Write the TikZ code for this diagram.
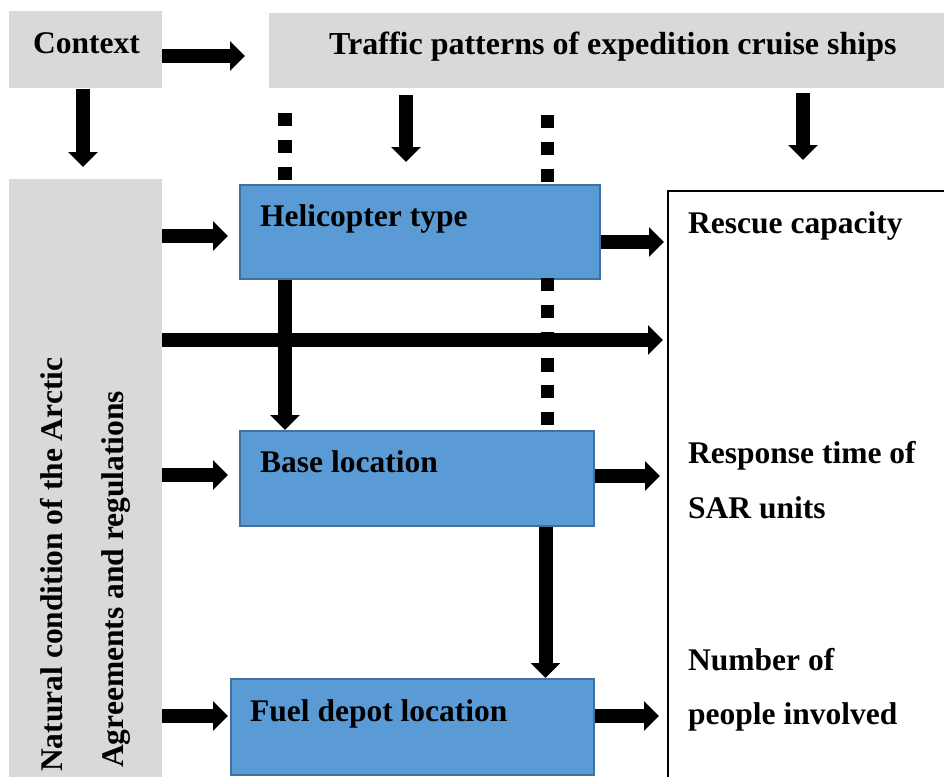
\documentclass[tikz,border=0pt]{standalone}
\usepackage{fontspec}
\setmainfont{Liberation Serif}
\usetikzlibrary{arrows.meta}
\definecolor{ctxgray}{HTML}{D9D9D9}
\definecolor{boxblue}{HTML}{5B9BD5}
\definecolor{boxedge}{HTML}{41719C}
\tikzset{
  graybox/.style={fill=ctxgray, draw=none, anchor=north west, inner sep=0pt},
  bluebox/.style={fill=boxblue, draw=boxedge, line width=2pt, anchor=north west, inner sep=0pt},
  outbox/.style={fill=white, draw=black, line width=2pt, anchor=north west, inner sep=0pt},
  lbl/.style={font=\fontsize{31.5}{36}\selectfont\bfseries, anchor=base west, inner sep=0pt},
  fat/.style={line width=14pt, -{Triangle[width=29pt,length=15pt]}},
  dots/.style={line width=13.5pt, dash pattern=on 13.2pt off 13.6pt}
}
\begin{document}
\begin{tikzpicture}[x=1pt, y=-1pt]
\clip (0,0) rectangle (944,776);
\fill[white] (0,0) rectangle (944,776);

% boxes
\node[graybox, minimum width=153pt, minimum height=77pt] (ctx) at (9,11) {};
\node[graybox, minimum width=700pt, minimum height=75pt] (traffic) at (269,13) {};
\node[graybox, minimum width=153pt, minimum height=620pt] (nat) at (9,179) {};
\node[bluebox, minimum width=360pt, minimum height=94pt] (heli) at (239,184) {};
\node[bluebox, minimum width=354pt, minimum height=95pt] (base) at (239,430) {};
\node[bluebox, minimum width=363pt, minimum height=96pt] (fuel) at (230,678) {};
\node[outbox, minimum width=320pt, minimum height=620pt] (out) at (667,190) {};

% labels
\node[lbl] (tctx) at (33,54) {Context};
\node[lbl, font=\fontsize{32}{36}\selectfont\bfseries] (ttraf) at (329,55) {Traffic patterns of expedition cruise ships};
\node[lbl, rotate=90] (tnat) at (62,772) {Natural condition of the Arctic};
\node[lbl, rotate=90] (tagr) at (123,768) {Agreements and regulations};
\node[lbl] (theli) at (260,226) {Helicopter type};
\node[lbl] (tbase) at (260,472) {Base location};
\node[lbl] (tfuel) at (250,721) {Fuel depot location};
\node[lbl] (tres) at (688,233) {Rescue capacity};
\node[lbl] (tresp1) at (688,463) {Response time of};
\node[lbl] (tresp2) at (688,518) {SAR units};
\node[lbl] (tnum1) at (688,670) {Number of};
\node[lbl] (tnum2) at (688,724) {people involved};

% free ends of the connectors
\coordinate (c1) at (245,56);
\coordinate (c2s) at (83,89);   \coordinate (c2) at (83,167);
\coordinate (t1s) at (406,95);  \coordinate (t1e) at (406,162);
\coordinate (t2s) at (803,93);  \coordinate (t2e) at (803,160);
\coordinate (n1) at (228,236);
\coordinate (n2) at (663,340);
\coordinate (n3) at (228,475);
\coordinate (n4) at (228,716);
\coordinate (h1) at (664,242);
\coordinate (b1) at (660,476);
\coordinate (f1) at (659,716);
\coordinate (hx) at (285,0);
\coordinate (bx) at (545.5,0);
\coordinate (d1s) at (285,113); \coordinate (d1e) at (285,184);
\coordinate (d2s) at (547.5,115); \coordinate (d2e) at (547.5,184);
\coordinate (d3s) at (547.5,278); \coordinate (d3e) at (547.5,426);

% dotted links
\draw[dots] (d1s) -- (d1e);
\draw[dots] (d2s) -- (d2e);
\draw[dots] (d3s) -- (d3e);

% block arrows
\draw[fat] (ctx.east |- c1) -- (c1);
\draw[fat] (c2s) -- (c2);
\draw[fat] (t1s) -- (t1e);
\draw[fat] (t2s) -- (t2e);
\draw[fat] (nat.east |- n1) -- (n1);
\draw[fat] (nat.east |- n2) -- (n2);
\draw[fat] (nat.east |- n3) -- (n3);
\draw[fat] (nat.east |- n4) -- (n4);
\draw[fat] (heli.east |- h1) -- (h1);
\draw[fat] (base.east |- b1) -- (b1);
\draw[fat] (fuel.east |- f1) -- (f1);
\draw[fat] (heli.south -| hx) -- (base.north -| hx);
\draw[fat] (base.south -| bx) -- (fuel.north -| bx);
\end{tikzpicture}
\end{document}
